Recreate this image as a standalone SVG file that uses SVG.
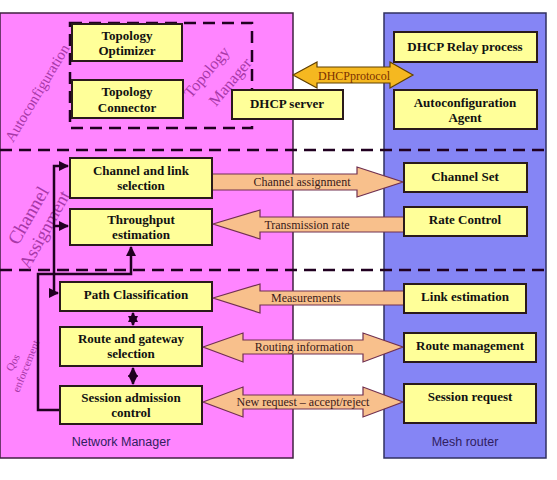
<svg xmlns="http://www.w3.org/2000/svg" width="557" height="480" viewBox="0 0 557 480">
<style>
.box{fill:#ffff99;stroke:#2a1a1a;stroke-width:2}
.bt{font-family:"Liberation Serif",serif;font-weight:bold;font-size:13px;fill:#111;text-anchor:middle}
.arr{fill:#f8c08c;stroke:#703050;stroke-width:1.2}
.at{font-family:"Liberation Serif",serif;font-size:12px;fill:#3a1a1a;text-anchor:middle}
.dash{stroke:#200020;stroke-width:2.5;stroke-dasharray:12 7;fill:none}
.con{stroke:#200020;stroke-width:2.5;fill:none}
.lab{font-family:"Liberation Serif",serif;fill:#a838a8}
.pl{font-family:"Liberation Sans",sans-serif;font-size:12.5px;fill:#302060;text-anchor:middle}
</style>
<defs>
<marker id="ah" viewBox="0 0 10 10" refX="9" refY="5" markerWidth="4" markerHeight="4" orient="auto-start-reverse">
<path d="M0,0 L10,5 L0,10 Z" fill="#200020"/>
</marker>
</defs>
<rect width="557" height="480" fill="#fff"/>
<g id="panels">
<rect x="0" y="13" width="293" height="445" fill="#ff85ff" stroke="#402040" stroke-width="1.5"/>
<rect x="384" y="13" width="162" height="445" fill="#8585f5" stroke="#303060" stroke-width="1.5"/>
<text class="pl" x="121" y="446">Network Manager</text>
<text class="pl" x="465" y="446">Mesh router</text>
</g>
<g id="separators">
<line class="dash" x1="0" y1="150" x2="546" y2="150"/>
<line class="dash" x1="0" y1="270" x2="546" y2="270"/>
</g>
<g id="section-labels">
<text class="lab" font-size="15" transform="translate(13,143) rotate(-59)">Autoconfiguration</text>
<text class="lab" font-size="19" fill="#a030a0" transform="translate(18,246) rotate(-60)">Channel</text>
<text class="lab" font-size="18" fill="#a030a0" transform="translate(29,270) rotate(-61)">Assignment</text>
<text class="lab" font-size="11" transform="translate(12,372) rotate(-62)">Qos</text>
<text class="lab" font-size="11" transform="translate(19,393) rotate(-68)">enforcement</text>
</g>
<g id="topology-manager">
<rect x="70" y="23" width="182" height="105" class="dash" stroke-width="3"/>
<text class="lab" font-size="16" fill="#c050c0" transform="translate(191,99) rotate(-50)">Topology</text>
<text class="lab" font-size="16" fill="#c050c0" transform="translate(216,107) rotate(-50)">Manager</text>
</g>
<g id="connectors">
<path class="con" d="M54,293 L54,166 L68,166" marker-end="url(#ah)"/>
<path class="con" d="M54,226 L68,226" marker-end="url(#ah)"/>
<path class="con" d="M54,293 L58,293" marker-end="url(#ah)"/>
<path class="con" d="M60,410 L38,410 L38,274 L131,274 L131,247" marker-end="url(#ah)"/>
<path class="con" d="M133,313 L133,325" marker-start="url(#ah)" marker-end="url(#ah)"/>
<path class="con" d="M133,368 L133,384" marker-start="url(#ah)" marker-end="url(#ah)"/>
<g id="dhcp-protocol">
<path d="M293,75 L317,62 L317,67 L390,67 L390,62 L413,75 L390,88 L390,83 L317,83 L317,88 Z" fill="#f5b820" stroke="#604000" stroke-width="1.2"/>
<text x="354" y="80" font-family="Liberation Serif,serif" font-size="12" fill="#7a3000" text-anchor="middle">DHCPprotocol</text>
</g>
<g id="channel-assignment">
<path class="arr" d="M212,174 L357,174 L357,167 L403,182 L357,197 L357,190 L212,190 Z"/>
<text class="at" x="302" y="186">Channel assignment</text>
</g>
<g id="transmission-rate">
<path class="arr" d="M213,224 L260,210 L260,217 L404,217 L404,232 L260,232 L260,239 Z"/>
<text class="at" x="307" y="229">Transmission rate</text>
</g>
<g id="measurements">
<path class="arr" d="M213,298 L260,284 L260,291 L404,291 L404,305 L260,305 L260,313 Z"/>
<text class="at" x="306" y="302">Measurements</text>
</g>
<g id="routing-information">
<path class="arr" d="M203,347 L243,333 L243,340 L363,340 L363,333 L403,347 L363,362 L363,354 L243,354 L243,362 Z"/>
<text class="at" x="304" y="351">Routing information</text>
</g>
<g id="new-request">
<path class="arr" d="M203,402 L243,387 L243,395 L363,395 L363,387 L403,402 L363,417 L363,409 L243,409 L243,417 Z"/>
<text class="at" x="303" y="406" font-size="11">New request – accept/reject</text>
</g>
</g>
<g id="topology-optimizer"><rect class="box" x="72" y="24" width="110" height="37"/><text class="bt" x="127" y="40">Topology</text><text class="bt" x="127" y="55">Optimizer</text></g>
<g id="topology-connector"><rect class="box" x="72" y="80" width="111" height="38"/><text class="bt" x="127" y="96">Topology</text><text class="bt" x="127" y="112">Connector</text></g>
<g id="dhcp-server"><rect class="box" x="232" y="90" width="111" height="29"/><text class="bt" x="287" y="108">DHCP server</text></g>
<g id="dhcp-relay"><rect class="box" x="394" y="32" width="143" height="30"/><text class="bt" x="465" y="51">DHCP Relay process</text></g>
<g id="autoconf-agent"><rect class="box" x="394" y="90" width="143" height="39"/><text class="bt" x="465" y="107">Autoconfiguration</text><text class="bt" x="465" y="122">Agent</text></g>
<g id="channel-link"><rect class="box" x="70" y="158" width="142" height="40"/><text class="bt" x="141" y="175">Channel and link</text><text class="bt" x="141" y="190">selection</text></g>
<g id="throughput"><rect class="box" x="70" y="209" width="142" height="36"/><text class="bt" x="141" y="224">Throughput</text><text class="bt" x="141" y="239">estimation</text></g>
<g id="channel-set"><rect class="box" x="404" y="163" width="123" height="29"/><text class="bt" x="465" y="181">Channel Set</text></g>
<g id="rate-control"><rect class="box" x="404" y="207" width="123" height="29"/><text class="bt" x="465" y="224">Rate Control</text></g>
<g id="path-classification"><rect class="box" x="60" y="282" width="152" height="29"/><text class="bt" x="136" y="299">Path Classification</text></g>
<g id="route-gateway"><rect class="box" x="60" y="327" width="142" height="39"/><text class="bt" x="131" y="343">Route and gateway</text><text class="bt" x="131" y="358">selection</text></g>
<g id="session-admission"><rect class="box" x="60" y="386" width="142" height="38"/><text class="bt" x="131" y="402">Session admission</text><text class="bt" x="131" y="417">control</text></g>
<g id="link-estimation"><rect class="box" x="404" y="284" width="122" height="29"/><text class="bt" x="465" y="301">Link estimation</text></g>
<g id="route-management"><rect class="box" x="404" y="333" width="132" height="29"/><text class="bt" x="470" y="350">Route management</text></g>
<g id="session-request"><rect class="box" x="404" y="384" width="132" height="39"/><text class="bt" x="470" y="401">Session request</text></g>
</svg>
